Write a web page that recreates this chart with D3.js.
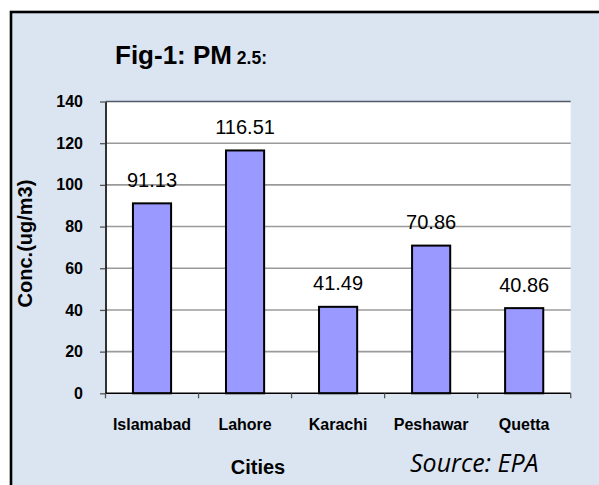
<!DOCTYPE html>
<html>
<head>
<meta charset="utf-8">
<script src="https://cdn.jsdelivr.net/npm/d3@7/dist/d3.min.js"></script>
<style>
  html, body { margin: 0; padding: 0; background: #ffffff; }
  svg { display: block; }
</style>
</head>
<body>
<svg id="chart" width="599" height="485"></svg>
<script>
// PM 2.5 concentration by city
const cities = ["Islamabad", "Lahore", "Karachi", "Peshawar", "Quetta"];
const concentrations = [91.13, 116.51, 41.49, 70.86, 40.86];
const yTicks = [0, 20, 40, 60, 80, 100, 120, 140];

const svg = d3.select("#chart");
const W = 599, H = 485;

// outer frame (extends past the right and bottom edges)
svg.append("rect")
  .attr("x", 11).attr("y", 12)
  .attr("width", W + 20).attr("height", H + 20)
  .attr("fill", "#dbe5f1")
  .attr("stroke", "#000").attr("stroke-width", 2.6);

const plot = { left: 105.5, right: 570.7, top: 101.5, bottom: 393.3 };

const x = d3.scaleBand()
  .domain(cities)
  .range([plot.left, plot.right])
  .paddingInner(0.59)
  .paddingOuter(0.295);

const y = d3.scaleLinear()
  .domain([0, 140])
  .range([plot.bottom, plot.top]);

// plot area background
svg.append("rect")
  .attr("x", plot.left).attr("y", plot.top)
  .attr("width", plot.right - plot.left)
  .attr("height", plot.bottom - plot.top)
  .attr("fill", "#ffffff");

// gridlines
svg.append("g")
  .selectAll("line")
  .data(yTicks.filter(d => d > 0))
  .join("line")
  .attr("x1", plot.left).attr("x2", plot.right)
  .attr("y1", d => y(d)).attr("y2", d => y(d))
  .attr("stroke", d => d === 140 ? "#4f5a68" : "#9a9a9a")
  .attr("stroke-width", d => d === 140 ? 1.3 : 1.6);

// bars
svg.append("g")
  .selectAll("rect")
  .data(cities)
  .join("rect")
  .attr("x", d => x(d))
  .attr("y", (d, i) => y(concentrations[i]))
  .attr("width", x.bandwidth())
  .attr("height", (d, i) => y(0) - y(concentrations[i]))
  .attr("fill", "#9999ff")
  .attr("stroke", "#000")
  .attr("stroke-width", 2);

// value labels
svg.append("g")
  .selectAll("text")
  .data(cities)
  .join("text")
  .attr("x", d => x(d) + x.bandwidth() / 2)
  .attr("y", (d, i) => y(concentrations[i]) - 16.5)
  .attr("text-anchor", "middle")
  .attr("font-family", "Liberation Sans, Arial, sans-serif")
  .attr("font-size", 20)
  .attr("fill", "#000")
  .text((d, i) => concentrations[i].toFixed(2));

// y axis
const yAxis = svg.append("g")
  .attr("transform", `translate(${plot.left},0)`)
  .call(d3.axisLeft(y).tickValues(yTicks).tickSize(5.5).tickPadding(17).tickSizeOuter(0));
yAxis.select(".domain").attr("stroke", "#000").attr("stroke-width", 1.6);
yAxis.selectAll(".tick line").attr("stroke", "#555").attr("stroke-width", 1.3);
yAxis.selectAll(".tick text")
  .attr("font-family", "Liberation Sans, Arial, sans-serif")
  .attr("font-size", 16).attr("font-weight", "bold").attr("fill", "#000");

// x axis with ticks at category boundaries
svg.append("line")
  .attr("x1", plot.left).attr("x2", plot.right)
  .attr("y1", plot.bottom).attr("y2", plot.bottom)
  .attr("stroke", "#000").attr("stroke-width", 1.6);
const boundaries = cities.map(c => x(c) - x.step() * x.paddingOuter()).concat([plot.right]);
svg.append("g")
  .selectAll("line")
  .data(boundaries)
  .join("line")
  .attr("x1", d => d).attr("x2", d => d)
  .attr("y1", plot.bottom).attr("y2", plot.bottom + 5)
  .attr("stroke", "#555").attr("stroke-width", 1.3);

svg.append("g")
  .selectAll("text")
  .data(cities)
  .join("text")
  .attr("x", d => x(d) + x.bandwidth() / 2)
  .attr("y", 430)
  .attr("text-anchor", "middle")
  .attr("font-family", "Liberation Sans, Arial, sans-serif")
  .attr("font-size", 16).attr("font-weight", "bold")
  .attr("fill", "#000")
  .text(d => d);

// title
const title = svg.append("text")
  .attr("x", 115).attr("y", 64.3)
  .attr("font-family", "Liberation Sans, Arial, sans-serif")
  .attr("font-weight", "bold").attr("fill", "#000");
title.append("tspan").attr("font-size", 26).text("Fig-1: PM");
title.append("tspan").attr("font-size", 17.5).text(" 2.5:");

// axis titles
svg.append("text")
  .attr("transform", "translate(32,243.5) rotate(-90)")
  .attr("text-anchor", "middle")
  .attr("font-family", "Liberation Sans, Arial, sans-serif")
  .attr("font-size", 20).attr("font-weight", "bold").attr("fill", "#000")
  .text("Conc.(ug/m3)");

svg.append("text")
  .attr("x", 258).attr("y", 474)
  .attr("text-anchor", "middle")
  .attr("font-family", "Liberation Sans, Arial, sans-serif")
  .attr("font-size", 20).attr("font-weight", "bold").attr("fill", "#000")
  .text("Cities");

// source note
svg.append("text")
  .attr("x", 410).attr("y", 471.5)
  .attr("font-family", "Open Sans, Noto Sans, sans-serif")
  .attr("font-style", "italic")
  .attr("font-size", 25).attr("fill", "#000")
  .text("Source: EPA");
</script>
</body>
</html>
